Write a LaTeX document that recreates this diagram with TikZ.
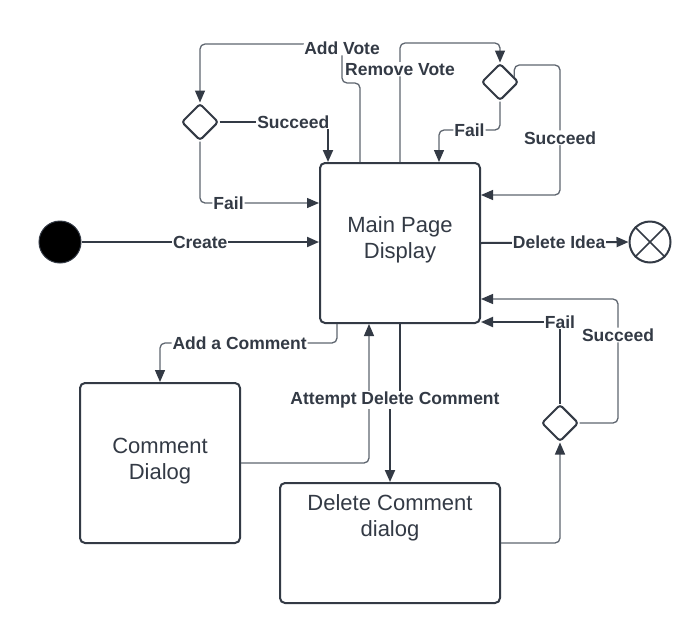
\documentclass[tikz,border=0pt]{standalone}
\usepackage{fontspec}
\setmainfont{Liberation Sans}
\usetikzlibrary{arrows.meta,shapes.geometric,calc}
\definecolor{dk}{HTML}{333A45}
\definecolor{gy}{HTML}{5F6670}
\begin{document}
\begin{tikzpicture}[x=1pt,y=-1pt,
 box/.style={draw=dk,line width=2pt,rounded corners=5pt,inner sep=0pt},
 btxt/.style={text=dk,font=\fontsize{22}{26}\selectfont,align=center},
 dia/.style={diamond,draw=dk,line width=2pt,rounded corners=3pt,minimum width=37pt,minimum height=37pt,inner sep=0pt},
 lbl/.style={fill=white,text=dk,font=\bfseries\fontsize{17.5}{20}\selectfont,inner sep=1pt},
 tip/.style={-{Triangle[length=12pt,width=10pt,color=dk]}},
 thk/.style={draw=dk,line width=2pt},
 thn/.style={draw=gy,line width=1.3pt,rounded corners=5pt},
]
\useasboundingbox[fill=white] (0,0) rectangle (700,643);

% nodes
\node[box,btxt,text depth=10pt,minimum width=160pt,minimum height=160pt] (main) at (400,243) {Main Page\\Display};
\node[box,btxt,text depth=9pt,minimum width=160pt,minimum height=160pt] (cd) at (160,463) {Comment\\Dialog};
\node[box,minimum width=220pt,minimum height=120pt] (dcd) at (390,543) {};
\node[btxt] (dcdt) at (390,518) {Delete Comment\\dialog};
\node[dia] (ld) at (200,122) {};
\node[dia] (rd) at (500,82) {};
\node[dia] (rd2) at (560,423) {};
\node[circle,fill=black,draw=dk,line width=1pt,minimum size=42pt,inner sep=0pt] (start) at (60,242) {};
\node[circle,draw=dk,line width=2pt,minimum size=41pt,inner sep=0pt] (end) at (650,242) {};
\draw[dk,line width=1.6pt] (end.45) -- (end.225) (end.135) -- (end.315);

% connectors
\draw[thk,tip] (start.east) -- node[lbl]{Create} (start -| main.west);
\draw[thk,tip] (main.east) -- node[lbl,pos=0.53]{Delete Idea} (end.west);

\draw[thn,tip] ([xshift=-40pt]main.north) -- (360,83) -- (342,83) -- node[lbl,pos=0.9]{Add Vote} (342,44) -- (200,44) -- (ld.north);
\draw[thn,tip] (main.north) -- node[lbl,pos=0.78]{Remove Vote} (400,43) -- (500,43) -- (rd.north);

\draw[thk,tip] (ld.east) -| node[lbl,pos=0.34]{Succeed} ([xshift=-72pt]main.north);
\draw[thn,tip] (ld.south) |- node[lbl,pos=0.62]{Fail} ([yshift=40pt]main.west);

\draw[thn,tip] (rd.south) -- (500,130) -- node[lbl]{Fail} (439,130) -- ([xshift=39pt]main.north);
\draw[thn,tip] (rd.20) |- (560,65) -- node[lbl,pos=0.56]{Succeed} (560,195) -- ([yshift=48pt]main.east);

\draw[thn,tip] ([xshift=-63pt]main.south) -- (337,343) -- node[lbl,pos=0.55]{Add a Comment} (160,343) -- (cd.north);
\draw[thn,tip] (cd.east) -| ([xshift=-31pt]main.south);
\draw[thk,tip] (main.south) -- (400,400) -- node[lbl]{Attempt Delete Comment} (390,400) -- (dcd.north);

\draw[thn,tip] (dcd.east) -| (rd2.south);
\draw[thk,tip] (rd2.north) |- node[lbl,pos=0.5]{Fail} ([yshift=-79pt]main.east);
\draw[thn,tip] (rd2.east) -- (618,423) -- node[lbl,pos=0.71]{Succeed} (618,299) -- ([yshift=-56pt]main.east);
\end{tikzpicture}
\end{document}
